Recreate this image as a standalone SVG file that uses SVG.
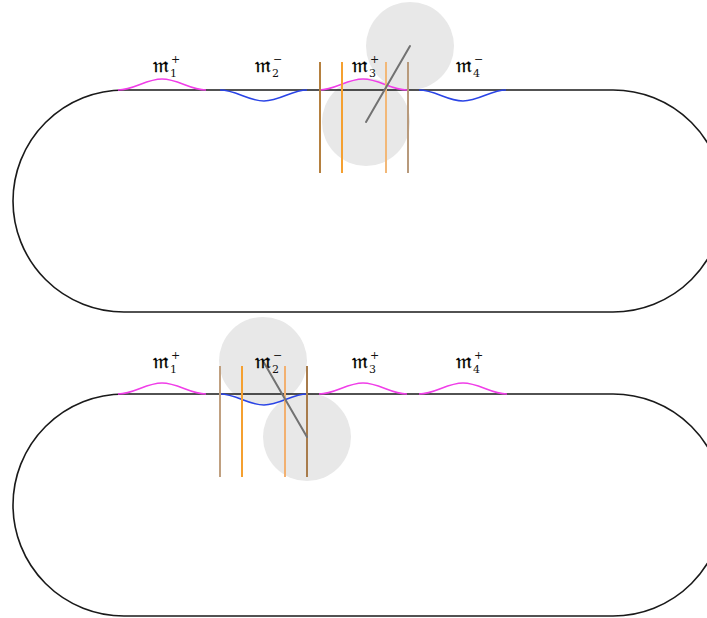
<svg xmlns="http://www.w3.org/2000/svg" width="707" height="618" viewBox="0 0 707 618">
  <style>
    .track { fill: none; stroke: #1a1a1a; stroke-width: 1.6; }
    .disc { fill: #e8e8e8; stroke: none; }
    .up { fill: none; stroke: #f03ee8; stroke-width: 1.6; }
    .down { fill: none; stroke: #2a44e6; stroke-width: 1.6; }
    .bar { stroke-width: 2; fill: none; }
    .link { stroke: #727272; stroke-width: 2; stroke-linecap: round; }
    .m { font-family: "DejaVu Serif", "Noto Sans", "DejaVu Sans", serif; font-size: 21px; fill: #000; stroke: #000; stroke-width: 0.3; }
    .s { font-family: "DejaVu Serif", "Liberation Serif", serif; font-size: 11px; fill: #111; }
  </style>
  <defs>
    <path id="stadium" d="M124,0 H613 A111,111 0 0 1 613,222 H124 A111,111 0 0 1 124,0 Z"/>
    <path id="bump" d="M0,0 C16,0 28,-11 44,-11 C60,-11 72,0 88,0"/>
    <path id="dip" d="M0,0 C16,0 28,11 44,11 C60,11 72,0 87,0"/>
  </defs>

  <!-- upper ring -->
  <g id="ring-top" transform="translate(0,90)">
    <g id="gears-top">
      <circle class="disc" cx="366" cy="32" r="44"/>
      <circle class="disc" cx="410" cy="-44" r="44"/>
    </g>
    <use href="#stadium" class="track"/>
    <g id="modes-top">
      <use href="#bump" class="up" x="118"/>
      <use href="#dip" class="down" x="220"/>
      <use href="#bump" class="up" x="319"/>
      <use href="#dip" class="down" x="419"/>
    </g>
    <g id="bars-top">
      <line class="bar" x1="320" y1="-28" x2="320" y2="83" stroke="#b5803f"/>
      <line class="bar" x1="342" y1="-28" x2="342" y2="83" stroke="#f5a030"/>
      <line class="bar" x1="386" y1="-28" x2="386" y2="83" stroke="#f2b878"/>
      <line class="bar" x1="408" y1="-28" x2="408" y2="83" stroke="#b89a7c"/>
    </g>
    <line class="link" x1="366" y1="32" x2="410" y2="-44"/>
    <g id="labels-top">
      <g id="m1-top"><text class="m" x="153" y="-18">𝔪</text><text class="s" x="170" y="-13">1</text><text class="s" x="171" y="-27">+</text></g>
      <g id="m2-top"><text class="m" x="255" y="-18">𝔪</text><text class="s" x="272" y="-13">2</text><text class="s" x="273" y="-27">−</text></g>
      <g id="m3-top"><text class="m" x="352" y="-18">𝔪</text><text class="s" x="369" y="-13">3</text><text class="s" x="370" y="-27">+</text></g>
      <g id="m4-top"><text class="m" x="456" y="-18">𝔪</text><text class="s" x="473" y="-13">4</text><text class="s" x="474" y="-27">−</text></g>
    </g>
  </g>

  <!-- lower ring -->
  <g id="ring-bottom" transform="translate(0,394)">
    <g id="gears-bottom">
      <circle class="disc" cx="263" cy="-33" r="44"/>
      <circle class="disc" cx="307" cy="43" r="44"/>
    </g>
    <use href="#stadium" class="track"/>
    <g id="modes-bottom">
      <use href="#bump" class="up" x="118"/>
      <use href="#dip" class="down" x="220"/>
      <use href="#bump" class="up" x="319"/>
      <use href="#bump" class="up" x="419"/>
    </g>
    <g id="bars-bottom">
      <line class="bar" x1="220" y1="-28" x2="220" y2="83" stroke="#c0a080"/>
      <line class="bar" x1="242" y1="-28" x2="242" y2="83" stroke="#f5a030"/>
      <line class="bar" x1="285" y1="-28" x2="285" y2="83" stroke="#f2b070"/>
      <line class="bar" x1="307" y1="-28" x2="307" y2="83" stroke="#a87c4c"/>
    </g>
    <line class="link" x1="263" y1="-33" x2="307" y2="43"/>
    <g id="labels-bottom">
      <g id="m1-bottom"><text class="m" x="153" y="-26">𝔪</text><text class="s" x="170" y="-21">1</text><text class="s" x="171" y="-35">+</text></g>
      <g id="m2-bottom"><text class="m" x="255" y="-26">𝔪</text><text class="s" x="272" y="-21">2</text><text class="s" x="273" y="-35">−</text></g>
      <g id="m3-bottom"><text class="m" x="352" y="-26">𝔪</text><text class="s" x="369" y="-21">3</text><text class="s" x="370" y="-35">+</text></g>
      <g id="m4-bottom"><text class="m" x="456" y="-26">𝔪</text><text class="s" x="473" y="-21">4</text><text class="s" x="474" y="-35">+</text></g>
    </g>
  </g>
</svg>
